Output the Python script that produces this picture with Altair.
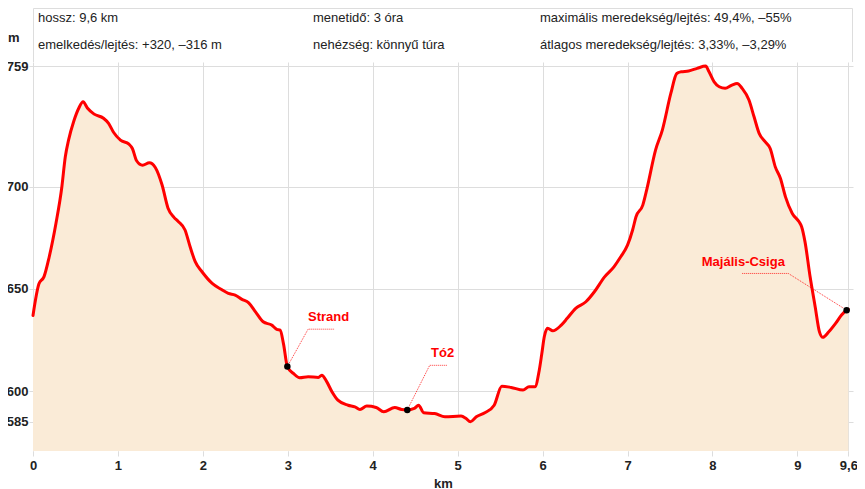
import altair as alt
import pandas as pd

# ---------------- data ----------------
KM = [0.00, 0.07, 0.13, 0.19, 0.27, 0.34, 0.38, 0.42, 0.48, 0.54, 0.59, 0.64, 0.72, 0.83, 0.89,
      0.95, 1.03, 1.13, 1.17, 1.22, 1.29, 1.37, 1.44, 1.52, 1.59, 1.66, 1.71, 1.79, 1.85, 1.91,
      1.99, 2.11, 2.22, 2.30, 2.38, 2.46, 2.54, 2.62, 2.71, 2.81, 2.87, 2.91, 2.95, 2.995, 3.07,
      3.14, 3.24, 3.36, 3.40, 3.46, 3.52, 3.59, 3.71, 3.79, 3.85, 3.93, 4.04, 4.13, 4.26, 4.34,
      4.407, 4.49, 4.54, 4.60, 4.73, 4.85, 5.04, 5.10, 5.15, 5.22, 5.32, 5.43, 5.52, 5.63, 5.77,
      5.84, 5.91, 5.96, 5.99, 6.02, 6.06, 6.12, 6.22, 6.29, 6.39, 6.51, 6.61, 6.73, 6.84, 6.92,
      7.00, 7.06, 7.10, 7.18, 7.23, 7.33, 7.41, 7.51, 7.58, 7.63, 7.72, 7.82, 7.92, 7.96, 8.02,
      8.08, 8.15, 8.23, 8.29, 8.35, 8.43, 8.49, 8.55, 8.62, 8.68, 8.74, 8.80, 8.86, 8.94, 9.02,
      9.05, 9.09, 9.15, 9.21, 9.26, 9.30, 9.37, 9.45, 9.52, 9.58, 9.60]
ELEV = [637.0, 652.5, 656.0, 665.5, 682.0, 700.0, 714.5, 723.0, 732.0, 738.5, 741.5, 738.5, 735.5, 733.5, 731.0,
        726.5, 722.8, 720.8, 718.7, 712.7, 710.5, 711.7, 709.4, 700.8, 689.5, 685.0, 683.0, 678.8, 670.6, 663.3,
        658.4, 652.7, 649.7, 647.8, 647.0, 644.9, 643.2, 638.8, 633.9, 632.3, 630.2, 629.8, 623.0, 612.0, 608.5,
        606.5, 607.0, 606.7, 607.8, 604.5, 599.7, 595.6, 593.1, 592.3, 591.0, 592.7, 592.0, 589.9, 592.0, 591.0,
        590.8, 591.5, 593.1, 589.4, 589.0, 587.4, 587.8, 586.6, 585.0, 587.4, 589.4, 593.1, 602.4, 601.8, 600.5,
        602.1, 602.1, 610.0, 618.0, 626.6, 630.7, 629.5, 632.3, 635.6, 640.5, 643.7, 648.6, 655.9, 660.8, 665.7,
        671.4, 678.8, 685.3, 691.0, 699.2, 717.9, 727.7, 745.6, 755.4, 756.2, 756.6, 757.9, 759.0, 756.2, 751.3,
        748.9, 748.1, 749.7, 750.5, 748.1, 742.4, 734.2, 726.1, 722.0, 718.7, 709.7, 704.1, 695.0, 686.9, 682.8,
        680.4, 673.0, 655.9, 641.2, 629.0, 626.3, 629.0, 633.1, 637.2, 639.6, 640.0]

X_TICKS = [0, 1, 2, 3, 4, 5, 6, 7, 8, 9, 9.6]
Y_TICKS = [585, 600, 650, 700, 759]

POI_NAMES = ["Strand", "Tó2", "Majális-Csiga"]
POI_KM = [2.995, 4.407, 9.58]
POI_ELEV = [612.0, 590.8, 639.6]

HEADER_ROW1 = ["hossz: 9,6 km", "menetidő: 3 óra", "maximális meredekség/lejtés: 49,4%, –55%"]
HEADER_ROW2 = ["emelkedés/lejtés: +320, –316 m", "nehézség: könnyű túra", "átlagos meredekség/lejtés: 3,33%, –3,29%"]
Y_UNIT = "m"
X_TITLE = "km"

# ---------------- layout / style ----------------
W, H = 820, 389
X_DOM = [0, 9.655]
Y_DOM = [570.7, 761.0]
KX = W / (X_DOM[1] - X_DOM[0])
KY = H / (Y_DOM[1] - Y_DOM[0])
FONT = "Liberation Sans"
GRID = "#dddddd"
RED = "#ff0000"
FILL = "#faebd7"
TXT = "#222222"

# leader elbow / end and label offsets in pixels relative to each marker
LEADER_OFFS = [[(20.7, -37.4), (46.7, -37.4)],
               [(22.4, -44.6), (39.7, -44.6)],
               [(-58.3, -36.7), (-105.0, -36.7)]]
LABEL_OFFS = [(41.2, -49.4), (35.4, -56.6), (-103.3, -48.4)]

profile = pd.DataFrame({"km": KM, "elev": ELEV})
poi = pd.DataFrame({"name": POI_NAMES, "km": POI_KM, "elev": POI_ELEV})

lead_rows = []
for i, (n, k, e) in enumerate(zip(POI_NAMES, POI_KM, POI_ELEV)):
    lead_rows.append({"name": n, "o": 0, "km": k, "elev": e})
    for j, (dx, dy) in enumerate(LEADER_OFFS[i]):
        lead_rows.append({"name": n, "o": j + 1, "km": k + dx / KX, "elev": e - dy / KY})
leaders = pd.DataFrame(lead_rows)

lab_rows = []
for i, (n, k, e) in enumerate(zip(POI_NAMES, POI_KM, POI_ELEV)):
    dx, dy = LABEL_OFFS[i]
    lab_rows.append({"name": n, "km": k + dx / KX, "elev": e - dy / KY})
labels = pd.DataFrame(lab_rows)

xs = alt.Scale(domain=X_DOM, nice=False, zero=False)
ys = alt.Scale(domain=Y_DOM, nice=False, zero=False)

x_axis = alt.Axis(values=X_TICKS, labelExpr="replace(format(datum.value, '~g'), '.', ',')",
                  grid=True, gridColor=GRID, gridWidth=1, domain=False,
                  ticks=True, tickColor=GRID, tickSize=5,
                  labelFont=FONT, labelFontWeight="bold", labelFontSize=13, labelColor=TXT,
                  labelPadding=3, labelFlush=False, labelOverlap=False, labelBound=False,
                  title=X_TITLE, titleFont=FONT, titleFontWeight="bold", titleFontSize=13,
                  titleColor=TXT, titlePadding=5)
y_axis = alt.Axis(values=Y_TICKS, grid=True, gridColor=GRID, gridWidth=1, domain=False,
                  ticks=True, tickColor=GRID, tickSize=4,
                  labelFont=FONT, labelFontWeight="bold", labelFontSize=13, labelColor=TXT,
                  labelPadding=1, labelFlush=False, labelOverlap=False, labelBound=False,
                  title=None)

area = alt.Chart(profile).mark_area(color=FILL, interpolate="monotone").encode(
    x=alt.X("km:Q", scale=xs, axis=x_axis),
    y=alt.Y("elev:Q", scale=ys, axis=y_axis),
    y2=alt.datum(Y_DOM[0]),
)
line = alt.Chart(profile).mark_line(color=RED, strokeWidth=3, interpolate="monotone",
                                    strokeJoin="round", strokeCap="round").encode(
    x="km:Q", y="elev:Q")

lead = alt.Chart(leaders).mark_line(color=RED, strokeWidth=1, strokeDash=[1, 1], opacity=0.8).encode(
    x="km:Q", y="elev:Q", detail="name:N", order="o:Q")

dots = alt.Chart(poi).mark_circle(size=42, color="black", opacity=1).encode(x="km:Q", y="elev:Q")

labs = alt.Chart(labels).mark_text(font=FONT, fontWeight="bold", fontSize=13, color=RED,
                                   align="center", baseline="middle").encode(
    x="km:Q", y="elev:Q", text="name:N")

one = pd.DataFrame({"a": [0]})
deco = []
# header frame (left, top, right lines)
deco.append(alt.Chart(one).mark_rule(color=GRID, strokeWidth=1).encode(
    x=alt.value(0.5), y=alt.value(-53.5), y2=alt.value(0)))
deco.append(alt.Chart(one).mark_rule(color=GRID, strokeWidth=1).encode(
    x=alt.value(0.5), x2=alt.value(W - 0.5), y=alt.value(-53.5)))
deco.append(alt.Chart(one).mark_rule(color=GRID, strokeWidth=1).encode(
    x=alt.value(W - 0.5), y=alt.value(-53.5), y2=alt.value(0)))

COL_X = [5, 280, 507]
ROW_Y = [-44, -17]
for row_texts, ry in zip([HEADER_ROW1, HEADER_ROW2], ROW_Y):
    for t, cx in zip(row_texts, COL_X):
        deco.append(alt.Chart(one).mark_text(font=FONT, fontSize=13, color=TXT, align="left",
                                             baseline="middle").encode(
            x=alt.value(cx), y=alt.value(ry), text=alt.value(t)))

deco.append(alt.Chart(one).mark_text(font=FONT, fontSize=13, fontWeight="bold", color=TXT,
                                     align="left", baseline="middle").encode(
    x=alt.value(-25), y=alt.value(-24), text=alt.value(Y_UNIT)))

chart = alt.layer(area, line, lead, dots, labs, *deco).properties(
    width=W, height=H,
    autosize=alt.AutoSizeParams(type="none"),
    padding={"left": 25, "top": 54, "right": 4, "bottom": 38},
    background="white",
).configure_view(stroke=None)

chart.save("out.html", embed_options={"renderer": "svg", "actions": False})
